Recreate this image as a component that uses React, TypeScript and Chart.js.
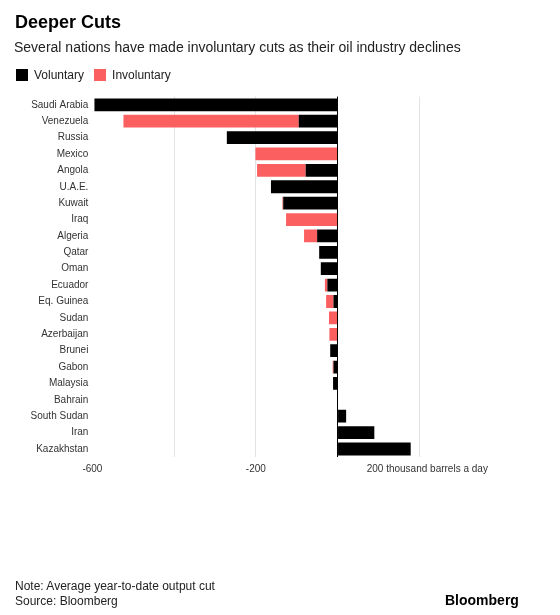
import React, { useEffect, useRef } from "react";
import { Chart, registerables } from "chart.js";

Chart.register(...registerables);

const categories = [
  "Saudi Arabia", "Venezuela", "Russia", "Mexico", "Angola", "U.A.E.", "Kuwait", "Iraq",
  "Algeria", "Qatar", "Oman", "Ecuador", "Eq. Guinea", "Sudan", "Azerbaijan", "Brunei",
  "Gabon", "Malaysia", "Bahrain", "South Sudan", "Iran", "Kazakhstan",
];
const voluntary = [-595, -95, -271, 0, -78, -163, -133, 0, -50, -45, -41, -25, -10, 0, 0, -18, -10, -11, 0, 21, 90, 179];
const involuntary = [0, -429, 0, -201, -119, 0, -2, -126, -32, 0, 0, -6, -18, -21, -20, 0, -2, 0, 0, 0, 0, 0];

const xTickValues = [-600, -200, 200];
const xTickLabels = ["-600", "-200", "200 thousand barrels a day"];
const gridValues = [-400, -200, 200];

const FONT = '"Liberation Sans", Arial, Helvetica, sans-serif';
const BLACK = "#000000";
const RED = "#fb5f5f";

const xLabelPlugin = {
  id: "xLabels",
  afterDraw(chart: any) {
    const ctx = chart.ctx;
    const xs = chart.scales.x;
    const y = chart.chartArea.bottom + 12;
    ctx.save();
    ctx.font = "10px " + FONT;
    ctx.fillStyle = "#333333";
    ctx.textAlign = "center";
    ctx.textBaseline = "middle";
    xTickValues.forEach((v, i) => {
      const px = xs.getPixelForValue(v);
      const shift = i === xTickValues.length - 1 ? 8 : 0;
      ctx.fillText(xTickLabels[i], px + shift, y);
    });
    ctx.restore();
  },
};

export default function App() {
  const ref = useRef<HTMLCanvasElement>(null);
  useEffect(() => {
    if (!ref.current) return;
    const chart = new Chart(ref.current, {
      type: "bar",
      data: {
        labels: categories,
        datasets: [
          { label: "Voluntary", data: voluntary, backgroundColor: BLACK, categoryPercentage: 0.78, barPercentage: 1 },
          { label: "Involuntary", data: involuntary, backgroundColor: RED, categoryPercentage: 0.78, barPercentage: 1 },
        ],
      },
      options: {
        indexAxis: "y",
        responsive: false,
        animation: false,
        layout: { padding: { top: 96.6, bottom: 157.8, left: 0, right: 59 } },
        plugins: { legend: { display: false }, tooltip: { enabled: false } },
        scales: {
          x: {
            stacked: true,
            min: -600,
            max: 400,
            border: { display: false },
            grid: {
              drawTicks: false,
              color: (c: any) => {
                const v = c.tick && c.tick.value;
                if (v === 0) return "#000000";
                return gridValues.includes(v) ? "#e3e3e3" : "rgba(0,0,0,0)";
              },
              lineWidth: 1,
            },
            ticks: { display: false, stepSize: 200 },
          },
          y: {
            stacked: true,
            border: { display: false },
            grid: { display: false, drawTicks: false },
            ticks: { font: { family: FONT, size: 10 }, color: "#333333", padding: 4 },
            afterFit: (s: any) => { s.width = 92.4; },
          },
        },
      },
      plugins: [xLabelPlugin],
    });
    return () => chart.destroy();
  }, []);

  const sq = (c: string) => ({ display: "inline-block", width: 12, height: 12, background: c, verticalAlign: "middle" });

  return (
    <div style={{ position: "absolute", left: 0, top: 0, width: 560, height: 615, background: "#fff", fontFamily: FONT }}>
      <canvas ref={ref} width={560} height={615} style={{ position: "absolute", left: 0, top: 0 }} />
      <div style={{ position: "absolute", left: 15, top: 11, fontSize: 18, fontWeight: "bold", color: "#000", lineHeight: "22px" }}>Deeper Cuts</div>
      <div style={{ position: "absolute", left: 14, top: 38, fontSize: 14, color: "#222", lineHeight: "18px", whiteSpace: "nowrap" }}>
        Several nations have made involuntary cuts as their oil industry declines
      </div>
      <div style={{ position: "absolute", left: 16, top: 66, fontSize: 12, color: "#222", lineHeight: "16px", whiteSpace: "nowrap" }}>
        <span style={sq(BLACK)} />
        <span style={{ marginLeft: 6, verticalAlign: "middle" }}>Voluntary</span>
        <span style={{ ...sq(RED), marginLeft: 10 }} />
        <span style={{ marginLeft: 6, verticalAlign: "middle" }}>Involuntary</span>
      </div>
      <div style={{ position: "absolute", left: 15, top: 579, fontSize: 12, color: "#222", lineHeight: "15px", whiteSpace: "nowrap" }}>
        Note: Average year-to-date output cut<br />Source: Bloomberg
      </div>
      <div style={{ position: "absolute", left: 445, top: 591, fontSize: 14, fontWeight: "bold", color: "#000", lineHeight: "18px" }}>Bloomberg</div>
    </div>
  );
}
